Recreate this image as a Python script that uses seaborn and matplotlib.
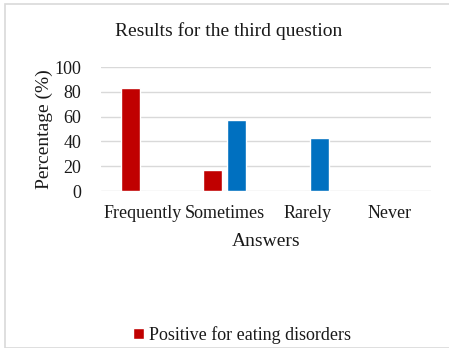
import matplotlib
matplotlib.use("Agg")
import matplotlib.pyplot as plt
from matplotlib.patches import Rectangle
import seaborn as sns
import pandas as pd

# Survey answers and the share of each group giving them
answers = ["Frequently", "Sometimes", "Rarely", "Never"]
groups = ["Positive for eating disorders", "Negative for eating disorders"]
positive_pct = [83, 17, 0, 0]
negative_pct = [0, 57, 43, 0]
y_ticks = [0, 20, 40, 60, 80, 100]

colors = {"Positive for eating disorders": "#C00000",
          "Negative for eating disorders": "#0070C0"}

df = pd.DataFrame({
    "Answers": answers * 2,
    "Group": [groups[0]] * len(answers) + [groups[1]] * len(answers),
    "Percentage": positive_pct + negative_pct,
})

sns.set_theme(style="white")
plt.rcParams["font.family"] = ["Liberation Serif", "DejaVu Serif"]

W, H = 449, 348
fig = plt.figure(figsize=(W / 100, H / 100), dpi=100)
txt = "#1a1a1a"

# light outer frame of the chart area
fig.patches.append(Rectangle((5 / W, 0), 1.2, (H - 4) / H, transform=fig.transFigure,
                             fill=False, edgecolor="#d9d9d9", linewidth=1.2))

ax = fig.add_axes([101 / W, 1 - 191 / H, 330 / W, 124 / H])
sns.barplot(data=df, x="Answers", y="Percentage", hue="Group", order=answers,
            hue_order=groups, palette=colors, width=0.58, gap=0.2,
            saturation=1, legend=False, ax=ax)

ax.set_ylim(0, 100)
ax.set_yticks(y_ticks)
ax.set_xlim(-0.5, len(answers) - 0.5)
ax.yaxis.grid(True, color="#d9d9d9", linewidth=1)
ax.set_axisbelow(True)
for s in ax.spines.values():
    s.set_visible(False)
ax.tick_params(axis="both", length=0, labelsize=13, colors=txt)
ax.tick_params(axis="y", pad=14)
ax.tick_params(axis="x", pad=10)
ax.set_xlabel("Answers", fontsize=14, color=txt, labelpad=8)
ax.set_ylabel("Percentage (%)", fontsize=14, color=txt, labelpad=1)

fig.text(229 / W, 1 - 31 / H, "Results for the third question", fontsize=14,
         color=txt, ha="center", va="center")

handle = ax.patches[0]
fig.legend([handle], [groups[0]], loc="center", bbox_to_anchor=(242 / W, 1 - 335 / H),
           frameon=False, fontsize=13, handlelength=0.6, handleheight=0.6,
           handletextpad=0.3, borderpad=0, labelcolor=txt)

fig.savefig("out.png", dpi=100)
